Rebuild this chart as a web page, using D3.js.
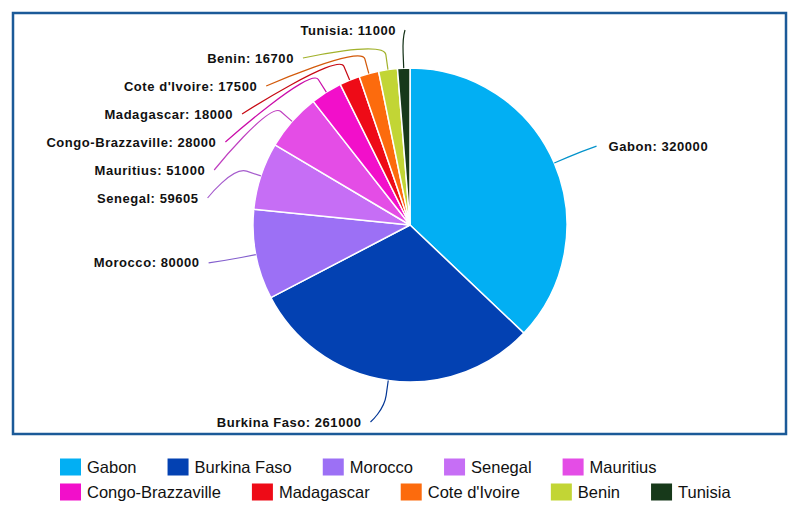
<!DOCTYPE html>
<html>
<head>
<meta charset="utf-8">
<script src="https://cdn.jsdelivr.net/npm/d3@7"></script>
<style>
  body { margin: 0; background: #fff; }
  .pieLabel { font-family: "Liberation Sans", Arial, sans-serif; font-weight: bold; font-size: 13px; letter-spacing: 0.55px; fill: #111; }
  .legendText { font-family: "Liberation Sans", Arial, sans-serif; font-size: 16.5px; fill: #111; }
</style>
</head>
<body>
<div class="chart"></div>
<script>
// Pie chart of values by country

var countries = ["Gabon", "Burkina Faso", "Morocco", "Senegal", "Mauritius",
    "Congo-Brazzaville", "Madagascar", "Cote d'Ivoire", "Benin", "Tunisia"];
var values = [320000, 261000, 80000, 59605, 51000, 28000, 18000, 17500, 16700, 11000];
var colors = ["#02aff3", "#0341b2", "#9c70f5", "#c66ef5", "#e44de6",
    "#f20fca", "#ee0b17", "#fc6b0d", "#c2d535", "#17391a"];

var svgWidth = 800;
var svgHeight = 509;

var cx = 410, cy = 225, radius = 157;
var labelDistance = 43;
var labelTop = 30, labelBottom = 422, labelSpacing = 28;

var svg = d3.select(".chart")
    .append("svg")
    .attr("width", svgWidth)
    .attr("height", svgHeight);

svg.append("rect")
    .attr("width", svgWidth)
    .attr("height", svgHeight)
    .attr("fill", "#fff");

// frame round the plot
svg.append("rect")
    .attr("x", 13)
    .attr("y", 13)
    .attr("width", 773)
    .attr("height", 421)
    .attr("fill", "none")
    .attr("stroke", "#1b5a98")
    .attr("stroke-width", 2.5);

var pie = d3.pie().sort(null).value(function(d) { return d; });
var arcs = pie(values);

var arc = d3.arc().innerRadius(0).outerRadius(radius);

var chart = svg.append("g");

chart.append("g")
    .attr("transform", "translate(" + cx + "," + cy + ")")
    .selectAll("path")
    .data(arcs)
    .enter()
    .append("path")
    .attr("d", arc)
    .attr("fill", function(d, i) { return colors[i]; })
    .attr("stroke", "#fff")
    .attr("stroke-width", 1.5)
    .attr("stroke-linejoin", "round");

function polar(angle, r) {
    return [cx + r * Math.sin(angle), cy - r * Math.cos(angle)];
}

// label layout: natural position on a larger circle, then pushed apart per side
var labelR = radius + labelDistance;
var labels = arcs.map(function(a, i) {
    var mid = (a.startAngle + a.endAngle) / 2;
    return { i: i, mid: mid, left: mid > Math.PI, y: cy - labelR * Math.cos(mid) };
});

[true, false].forEach(function(side) {
    var list = labels.filter(function(d) { return d.left === side; })
        .sort(function(a, b) { return a.y - b.y; });
    var prev = labelTop - labelSpacing;
    list.forEach(function(d) {
        d.y = Math.max(d.y, prev + labelSpacing);
        prev = d.y;
    });
    var next = labelBottom + labelSpacing;
    for (var k = list.length - 1; k >= 0; k--) {
        list[k].y = Math.min(list[k].y, next - labelSpacing);
        next = list[k].y;
    }
});

labels.forEach(function(d) {
    var dy = d.y - cy - (d.y < cy ? 5 : 0);
    var dx = Math.sqrt(Math.max(0, labelR * labelR - dy * dy)) + 5;
    d.x = d.left ? cx - dx : cx + dx;
    d.touch = polar(d.mid, radius);
    d.brk = polar(d.mid, radius + 15);
});

// soft connectors
chart.selectAll(".connector")
    .data(labels)
    .enter()
    .append("path")
    .attr("class", "connector")
    .attr("fill", "none")
    .attr("stroke", function(d) { return d3.color(colors[d.i]).darker(0.5); })
    .attr("stroke-width", 1.2)
    .attr("d", function(d) {
        var c2x = 2 * d.brk[0] - d.touch[0];
        var c2y = 2 * d.brk[1] - d.touch[1];
        return "M" + d.x + "," + d.y +
            "C" + d.x + "," + d.y + " " + c2x + "," + c2y + " " + d.brk[0] + "," + d.brk[1] +
            "L" + d.touch[0] + "," + d.touch[1];
    });

chart.selectAll(".pieLabel")
    .data(labels)
    .enter()
    .append("text")
    .attr("class", "pieLabel")
    .attr("x", function(d) { return d.left ? d.x - 9 : d.x + 12; })
    .attr("y", function(d) { return d.y; })
    .attr("dy", "0.36em")
    .attr("text-anchor", function(d) { return d.left ? "end" : "start"; })
    .text(function(d) { return countries[d.i] + ": " + values[d.i]; });

// legend, flowing left to right and wrapping
var legend = svg.append("g");
var lx = 60, ly = 467, rowHeight = 25, maxX = 770;

countries.forEach(function(name, i) {
    var item = legend.append("g");
    item.append("rect")
        .attr("width", 21)
        .attr("height", 17)
        .attr("y", -8.5)
        .attr("fill", colors[i]);
    var t = item.append("text")
        .attr("class", "legendText")
        .attr("x", 27)
        .attr("dy", "0.36em")
        .text(name);
    var w = 27 + t.node().getComputedTextLength() + 31;
    if (lx + w - 31 > maxX) {
        lx = 60;
        ly += rowHeight;
    }
    item.attr("transform", "translate(" + lx + "," + ly + ")");
    lx += w;
});
</script>
</body>
</html>
